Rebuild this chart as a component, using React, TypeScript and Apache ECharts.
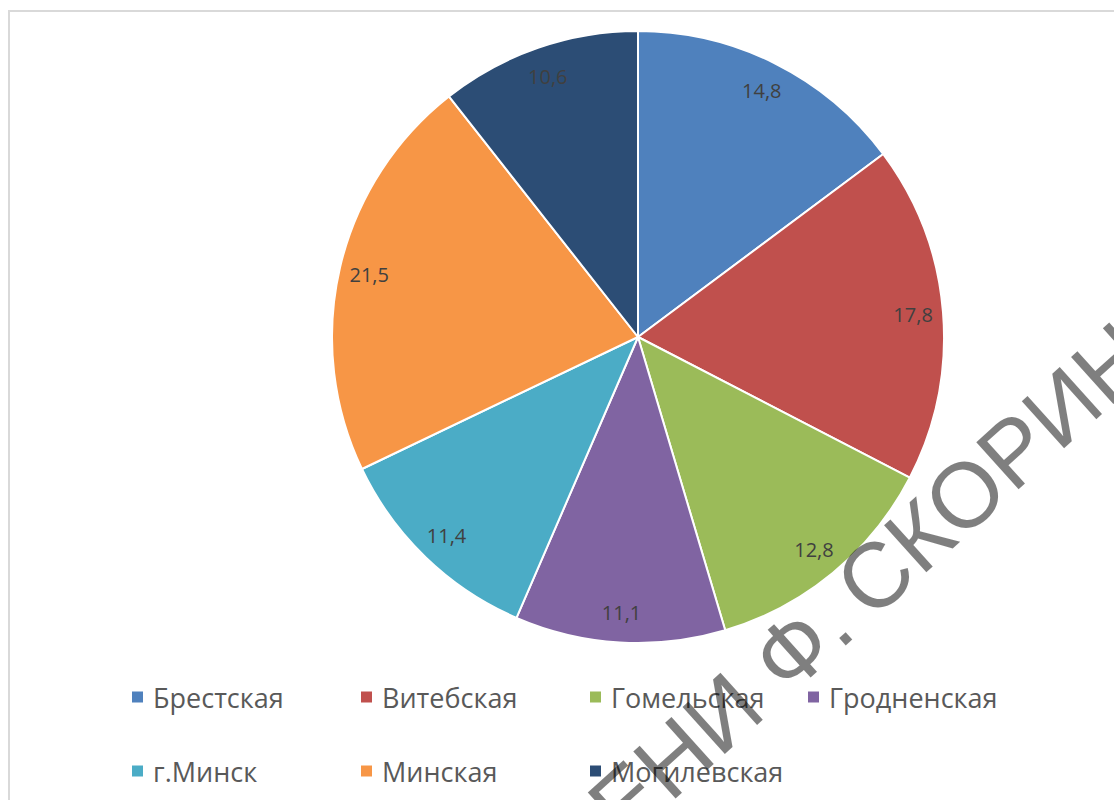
import React, { useEffect, useRef } from "react";
import * as echarts from "echarts";

const categories = ["Брестская", "Витебская", "Гомельская", "Гродненская", "г.Минск", "Минская", "Могилевская"];
const values = [14.8, 17.8, 12.8, 11.1, 11.4, 21.5, 10.6];
const colors = ["#4F81BD", "#C0504D", "#9BBB59", "#8064A2", "#4BACC6", "#F79646", "#2C4D75"];
const legendColumns = [
  ["Брестская", "г.Минск"],
  ["Витебская", "Минская"],
  ["Гомельская", "Могилевская"],
  ["Гродненская"],
];
const legendLefts = [130, 359, 588, 806];

export default function App() {
  const ref = useRef<HTMLDivElement>(null);
  useEffect(() => {
    if (!ref.current) return;
    const chart = echarts.init(ref.current, null, { renderer: "svg" });
    const data = categories.map((c, i) => ({ name: c, value: values[i] }));
    const center = [638, 337];
    const R = 306;
    const rot = (42 * Math.PI) / 180;
    chart.setOption({
      animation: false,
      color: colors,
      legend: legendColumns.map((col, i) => ({
        data: col,
        orient: "vertical",
        left: legendLefts[i],
        top: 682,
        padding: 0,
        itemWidth: 13,
        itemHeight: 13,
        itemGap: 44,
        icon: "rect",
        selectedMode: false,
        textStyle: { fontFamily: "Open Sans", fontSize: 27, color: "#595959", lineHeight: 30, padding: [0, 0, 0, 4] },
      })),
      series: [
        {
          type: "pie",
          center,
          radius: [0, R],
          startAngle: 90,
          clockwise: true,
          data,
          label: { show: false },
          labelLine: { show: false },
          itemStyle: { borderColor: "#ffffff", borderWidth: 2 },
          emphasis: { disabled: true },
          silent: true,
        },
        {
          type: "pie",
          center,
          radius: [240, R],
          startAngle: 90,
          clockwise: true,
          data,
          itemStyle: { color: "rgba(0,0,0,0)" },
          label: {
            show: true,
            position: "inside",
            formatter: (p: any) => String(p.value).replace(".", ","),
            fontFamily: "Open Sans",
            fontSize: 20,
            color: "#404040",
          },
          labelLine: { show: false },
          emphasis: { disabled: true },
          silent: true,
        },
      ],
      graphic: [
        {
          type: "rect",
          shape: { x: 9, y: 11, width: 1200, height: 1000 },
          style: { fill: "none", stroke: "#d9d9d9", lineWidth: 2 },
          silent: true,
          z: -10,
        },
        {
          type: "text",
          x: 837,
          y: 610,
          rotation: rot,
          z: 100,
          silent: true,
          style: {
            text: "РЕПОЗИТОРИЙ ГГУ ИМЕНИ Ф.",
            fontFamily: "Liberation Sans",
            fontSize: 92,
            fill: "rgba(0,0,0,0.5)",
            align: "right",
            verticalAlign: "middle",
          },
        },
        {
          type: "text",
          x: 850,
          y: 598,
          rotation: rot,
          z: 100,
          silent: true,
          style: {
            text: "СКОРИНЫ",
            fontFamily: "Liberation Sans",
            fontSize: 92,
            fill: "rgba(0,0,0,0.5)",
            align: "left",
            verticalAlign: "middle",
          },
        },
      ],
    });
    return () => chart.dispose();
  }, []);
  return <div ref={ref} style={{ position: "fixed", left: 0, top: 0, width: 1114, height: 800, background: "#fff" }} />;
}
